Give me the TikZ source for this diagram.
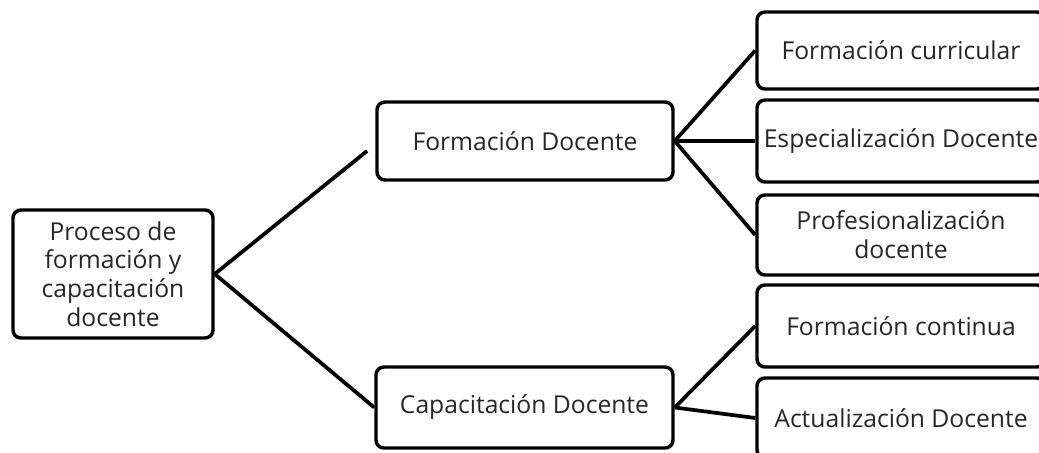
\documentclass[tikz,border=0pt]{standalone}
\usepackage{fontspec}
\setmainfont{Open Sans}
\begin{document}
\begin{tikzpicture}[x=0.75pt,y=-0.75pt,
  box/.style={draw=black,line width=2.6pt,rounded corners=6pt,align=center,
    font=\fontsize{18.5}{21.5}\selectfont,text=black!85,inner sep=0pt},
  conn/.style={draw=black,line width=2.8pt}]
\useasboundingbox (0,0) rectangle (1039,453);
\clip (0,0) rectangle (1039,453);
\node[box,minimum width=150pt,minimum height=96pt] (root) at (113,274) {Proceso de\\formación y\\capacitación\\docente};
\node[box,minimum width=222pt,minimum height=58.5pt] (fd) at (525,141) {Formación Docente};
\node[box,minimum width=222.75pt,minimum height=60.75pt] (cd) at (524.5,407.5) {Capacitación Docente};
\node[box,minimum width=216pt,minimum height=57.75pt] (fc) at (901,50.5) {Formación curricular};
\node[box,minimum width=216pt,minimum height=61.5pt] (ed) at (901,141) {Especialización Docente};
\node[box,minimum width=216pt,minimum height=60pt] (pd) at (901,235) {Profesionalización\\docente};
\node[box,minimum width=216pt,minimum height=61.5pt] (fco) at (901,326) {Formación continua};
\node[box,minimum width=216pt,minimum height=60pt] (ad) at (901,418) {Actualización Docente};
\coordinate (fdend) at (367,151);
\draw[conn] (root.east) -- (fdend);
\draw[conn] (root.east) -- (cd.west);
\draw[conn] (fd.east) -- (fc.west);
\draw[conn] (fd.east) -- (ed.west);
\draw[conn] (fd.east) -- (pd.west);
\draw[conn] (cd.east) -- (fco.west);
\draw[conn] (cd.east) -- (ad.west);
\end{tikzpicture}
\end{document}
